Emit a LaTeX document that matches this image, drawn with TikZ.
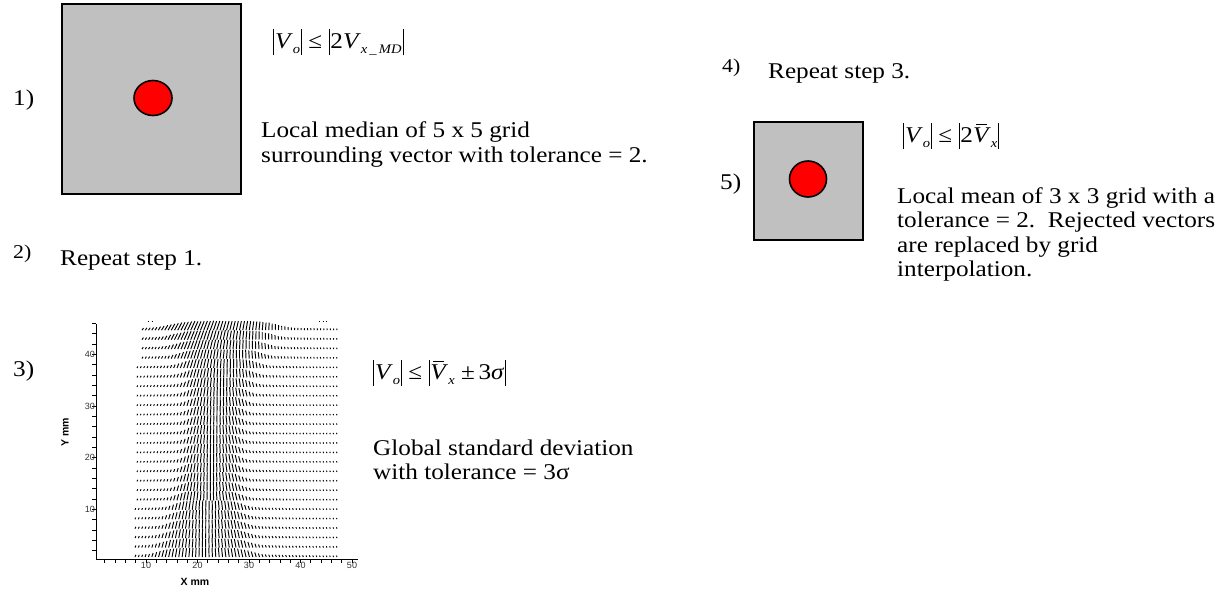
\documentclass[tikz,border=0pt]{standalone}
\usepackage{fontspec}
\setmainfont{Liberation Serif}[FakeStretch=1.12]
\newfontfamily\axfont{Liberation Sans}
\definecolor{boxgray}{RGB}{192,192,192}
\newcommand\fbar{\rule[-7pt]{0.9pt}{26pt}}
\newcommand\sbs[1]{\raisebox{-5pt}{\fontsize{13}{13}\selectfont\itshape #1}}
\newcommand\VV{\textit{V}}
\newcommand\VM{\makebox[0pt][l]{\hspace{3pt}\rule[17.5pt]{11pt}{0.8pt}}\textit{V}}
\begin{document}
\begin{tikzpicture}[x=1pt,y=-1pt,
  tx/.style={anchor=base west,inner sep=0pt,font=\fontsize{22.5}{24.5}\selectfont},
  slab/.style={anchor=base west,inner sep=0pt,font=\fontsize{19.5}{20}\selectfont},
  gbox/.style={draw=black,line width=1.8pt,fill=boxgray},
  rdot/.style={draw=black,line width=1.6pt,fill=red},
  vec/.style={line width=0.95pt,black},
  axisline/.style={line width=1pt,black},
  tickline/.style={line width=0.7pt,black},
  ticklab/.style={inner sep=0pt,font=\axfont\fontsize{9}{9}\selectfont,text=black!80},
  axlab/.style={inner sep=0pt,font=\axfont\bfseries\fontsize{10.5}{11}\selectfont}]
\useasboundingbox (0,0) rectangle (1225,592);

% ---------- step 1 ----------
\node[tx] (n1) at (13,105) {1)};
\draw[gbox] (62,4) rectangle (241,194);
\draw[rdot] (153,98) ellipse [x radius=19, y radius=17.5];
\node[tx] (f1) at (273,48) {\fbar\kern1pt\VV\sbs{o}\kern1pt\fbar\ ≤\ \fbar\kern1pt2\VV\sbs{x\,\_\,MD}\kern1pt\fbar};
\node[tx] (t1a) at (261,137) {Local median of 5 x 5 grid};
\node[tx] (t1b) at (261,162) {surrounding vector with tolerance = 2.};

% ---------- step 2 ----------
\node[slab] (n2) at (13,258) {2)};
\node[tx] (t2) at (60,265) {Repeat step 1.};

% ---------- step 3 ----------
\node[tx] (n3) at (13,376) {3)};
\node[tx] (f3) at (373,379) {\fbar\kern1pt\VV\sbs{o}\kern1pt\fbar\ ≤\ \fbar\kern1pt\VM\sbs{x}\ ±\,3\textit{σ}\kern1pt\fbar};
\node[tx] (t3a) at (373,455) {Global standard deviation};
\node[tx] (t3b) at (373,479) {with tolerance = 3σ};

% vector plot
\draw[axisline] (96,324) -- (96,559) -- (358,559);
\foreach \m in {2,4,...,46} \draw[tickline] (96,{561-5.17*\m}) -- (92,{561-5.17*\m});
\foreach \m in {2,4,...,50} \draw[tickline] ({94.5+5.15*\m},559) -- ({94.5+5.15*\m},563);
\foreach \m in {10,20,30,40} \node[ticklab,anchor=east] (yl\m) at (95,{561-5.17*\m}) {\m};
\foreach \m in {10,20,30,40,50} \node[ticklab,anchor=north] (xl\m) at ({94.5+5.15*\m},562.5) {\m};
\node[axlab,rotate=90] (ylab) at (65,432) {Y mm};
\node[axlab] (xlab) at (195,582) {X mm};

\pgfmathsetseed{7}
\foreach \j in {0,...,24}{
  \pgfmathsetmacro\tt{\j/24}
  \pgfmathsetmacro\cc{205+17*\tt}
  \pgfmathsetmacro\ww{\tt<0.55 ? 30+20*((0.55-\tt)/0.55)^2 : 30+28*((\tt-0.55)/0.45)^2}
  \pgfmathsetmacro\py{557-9.45*\j}
  \pgfmathsetmacro\xs{\j>20 ? 142 : (\j<6 ? 135 : 137)}
  \foreach \i in {0,...,60}{
    \pgfmathsetmacro\px{\xs+(337-\xs)*\i/60}
    \pgfmathsetmacro\dd{(\px-\cc)/\ww}
    \pgfmathsetmacro\ea{min(abs(\dd)^6,9)}
    \pgfmathsetmacro\eb{min((\dd/1.5)^2,9)}
    \pgfmathsetmacro\LL{(1.3+6.0*exp(-\ea)+2.2*exp(-\eb))*(0.93+0.07*rnd)}
    \pgfmathsetmacro\uu{-0.3*\LL*max(min(\dd,1.5),-1.5)+0.3*\LL*\tt^6}
    \draw[vec] (\px,\py) -- ++(\uu,-\LL);
  }
}
\draw[vec] (148,321) -- (149.2,321) (151.5,321) -- (152.7,321);
\draw[vec] (319,321) -- (320.2,321) (322.5,321) -- (323.7,321) (326,321) -- (327.2,321);

% ---------- step 4 ----------
\node[slab] (n4) at (722,72) {4)};
\node[tx] (t4) at (768,78) {Repeat step 3.};

% ---------- step 5 ----------
\node[tx] (n5) at (720,189) {5)};
\draw[gbox] (754,122) rectangle (863,240);
\draw[rdot] (808,179) ellipse [x radius=18.5, y radius=18];
\node[tx] (f5) at (903,142) {\fbar\kern1pt\VV\sbs{o}\kern1pt\fbar\ ≤\ \fbar\kern1pt2\VM\sbs{x}\kern1pt\fbar};
\node[tx] (t5a) at (897,203) {Local mean of 3 x 3 grid with a};
\node[tx] (t5b) at (897,227) {tolerance = 2.\ \ Rejected vectors};
\node[tx] (t5c) at (897,252) {are replaced by grid};
\node[tx] (t5d) at (897,276) {interpolation.};
\end{tikzpicture}
\end{document}
